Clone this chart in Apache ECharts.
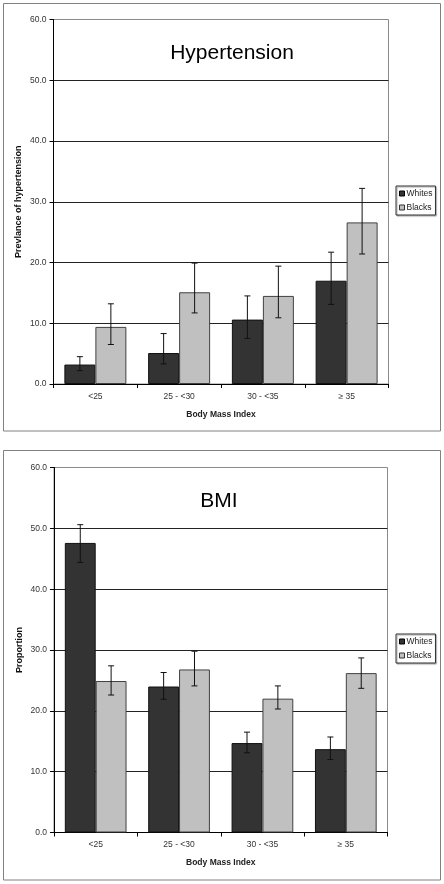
<!DOCTYPE html>
<html><head><meta charset="utf-8">
<script src="https://cdn.jsdelivr.net/npm/echarts@6/dist/echarts.min.js"></script>
<style>html,body{margin:0;padding:0;background:#fff;}#c{width:444px;height:884px;}</style>
</head><body><div id="c"></div>
<script>
var categories = ['<25', '25 - <30', '30 - <35', '\u2265 35'];
var yTicks = [0, 10, 20, 30, 40, 50, 60];

// Hypertension chart
var htnWhites = [3.2, 5.1, 10.6, 17.0];
var htnWhitesLow = [2.2, 3.3, 7.5, 13.1];
var htnWhitesHigh = [4.5, 8.3, 14.5, 21.7];
var htnBlacks = [9.4, 15.1, 14.5, 26.6];
var htnBlacksLow = [6.5, 11.7, 10.9, 21.4];
var htnBlacksHigh = [13.2, 19.9, 19.4, 32.2];

// BMI chart
var bmiWhites = [47.6, 24.0, 14.7, 13.7];
var bmiWhitesLow = [44.4, 21.9, 13.1, 12.0];
var bmiWhitesHigh = [50.6, 26.3, 16.5, 15.7];
var bmiBlacks = [24.9, 26.8, 22.0, 26.2];
var bmiBlacksLow = [22.6, 24.1, 20.3, 23.7];
var bmiBlacksHigh = [27.4, 29.8, 24.1, 28.7];

var FONT = '"Liberation Sans", Arial, sans-serif';
var BAR_FRAC = 0.37;

function errData(lo, hi) {
  return lo.map(function (v, i) { return [i, v, hi[i]]; });
}
function errRender(offsetSign) {
  return function (params, api) {
    var i = api.value(0), lo = api.value(1), hi = api.value(2);
    var pLo = api.coord([i, lo]);
    var pHi = api.coord([i, hi]);
    var band = api.size([1, 0])[0];
    var cx = pLo[0] + offsetSign * band * BAR_FRAC / 2;
    var w = 3;
    var st = { stroke: '#111', lineWidth: 1 };
    return {
      type: 'group',
      children: [
        { type: 'line', shape: { x1: cx, y1: pLo[1], x2: cx, y2: pHi[1] }, style: st },
        { type: 'line', shape: { x1: cx - w, y1: pLo[1], x2: cx + w, y2: pLo[1] }, style: st },
        { type: 'line', shape: { x1: cx - w, y1: pHi[1], x2: cx + w, y2: pHi[1] }, style: st }
      ]
    };
  };
}

function xAxisCfg(gi) {
  return {
    type: 'category', gridIndex: gi, data: categories,
    name: 'Body Mass Index', nameLocation: 'middle', nameGap: 26, nameMoveOverlap: false,
    nameTextStyle: { fontFamily: FONT, fontSize: 8.5, fontWeight: 'bold', color: '#222' },
    axisLine: { lineStyle: { color: '#000', width: 1 } },
    axisTick: { show: true, length: 4, lineStyle: { color: '#000' } },
    axisLabel: { fontFamily: FONT, fontSize: 8.5, color: '#333', margin: 8 },
    splitLine: { show: false }
  };
}
function yAxisCfg(gi, name) {
  return {
    type: 'value', gridIndex: gi, min: yTicks[0], max: yTicks[yTicks.length - 1], interval: 10,
    name: name, nameLocation: 'middle', nameGap: 30, nameMoveOverlap: false,
    nameTextStyle: { fontFamily: FONT, fontSize: 9, fontWeight: 'bold', color: '#111' },
    axisLine: { show: true, lineStyle: { color: '#000', width: 1 } },
    axisTick: { show: true, length: 4, lineStyle: { color: '#000' } },
    axisLabel: { fontFamily: FONT, fontSize: 8.5, color: '#333', margin: 7,
      formatter: function (v) { return v.toFixed(1); } },
    splitLine: { show: true, showMinLine: false, showMaxLine: false, lineStyle: { color: '#222', width: 1 } }
  };
}
function barSeries(name, data, gi, color, border) {
  return {
    type: 'bar', name: name, data: data, xAxisIndex: gi, yAxisIndex: gi,
    barWidth: (BAR_FRAC * 100) + '%', barGap: '0%',
    itemStyle: { color: color, borderColor: border, borderWidth: 1 },
    emphasis: { disabled: true }, animation: false
  };
}
function errSeries(lo, hi, gi, sign) {
  return {
    type: 'custom', xAxisIndex: gi, yAxisIndex: gi, data: errData(lo, hi),
    renderItem: errRender(sign), z: 5, silent: true, animation: false
  };
}
function legendCfg(top) {
  return {
    orient: 'vertical', left: 396, top: top, padding: [3, 3, 3, 3], itemGap: 5,
    itemWidth: 5, itemHeight: 5, icon: 'rect',
    borderColor: '#333', borderWidth: 1, backgroundColor: '#fff',
    shadowColor: 'rgba(0,0,0,0.35)', shadowOffsetX: 1, shadowOffsetY: 1, shadowBlur: 1,
    textStyle: { fontFamily: FONT, fontSize: 8.5, color: '#222', padding: [0, 0, 0, -3] },
    data: [
      { name: 'Whites', itemStyle: { color: '#333', borderColor: '#000', borderWidth: 1 } },
      { name: 'Blacks', itemStyle: { color: '#c0c0c0', borderColor: '#333', borderWidth: 1 } }
    ]
  };
}

var chart = echarts.init(document.getElementById('c'), null, { renderer: 'canvas' });
chart.setOption({
  animation: false,
  backgroundColor: '#fff',
  graphic: [
    { type: 'rect', shape: { x: 3.5, y: 3.5, width: 437, height: 427.5 }, style: { fill: 'none', stroke: '#808080', lineWidth: 1 }, silent: true },
    { type: 'rect', shape: { x: 3.5, y: 450.5, width: 437, height: 429.5 }, style: { fill: 'none', stroke: '#808080', lineWidth: 1 }, silent: true }
  ],
  title: [
    { text: 'Hypertension', left: 227, top: 38, textAlign: 'center',
      textStyle: { fontFamily: FONT, fontSize: 21, fontWeight: 'normal', color: '#000' } },
    { text: 'BMI', left: 214, top: 486, textAlign: 'center',
      textStyle: { fontFamily: FONT, fontSize: 21, fontWeight: 'normal', color: '#000' } }
  ],
  legend: [legendCfg(186), legendCfg(634)],
  grid: [
    { left: 53.5, top: 19.5, width: 335, height: 364.5, show: true, borderColor: '#8a8a8a', borderWidth: 1, backgroundColor: '#fff' },
    { left: 54, top: 467.5, width: 333.5, height: 365, show: true, borderColor: '#8a8a8a', borderWidth: 1, backgroundColor: '#fff' }
  ],
  xAxis: [xAxisCfg(0), xAxisCfg(1)],
  yAxis: [yAxisCfg(0, 'Prevlance of hypertension'), yAxisCfg(1, 'Proportion')],
  series: [
    barSeries('Whites', htnWhites, 0, '#333333', '#111'),
    barSeries('Blacks', htnBlacks, 0, '#c0c0c0', '#404040'),
    errSeries(htnWhitesLow, htnWhitesHigh, 0, -1),
    errSeries(htnBlacksLow, htnBlacksHigh, 0, 1),
    barSeries('Whites', bmiWhites, 1, '#333333', '#111'),
    barSeries('Blacks', bmiBlacks, 1, '#c0c0c0', '#404040'),
    errSeries(bmiWhitesLow, bmiWhitesHigh, 1, -1),
    errSeries(bmiBlacksLow, bmiBlacksHigh, 1, 1)
  ]
});
</script></body></html>
